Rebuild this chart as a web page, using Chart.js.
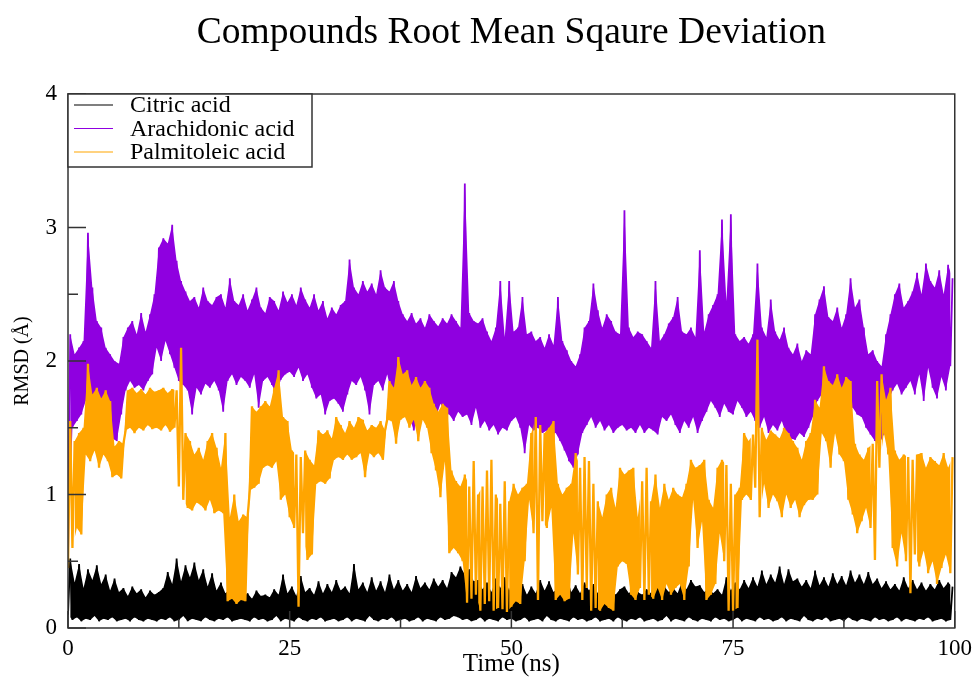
<!DOCTYPE html>
<html><head><meta charset="utf-8">
<script src="https://cdn.jsdelivr.net/npm/chart.js@4/dist/chart.umd.min.js"></script>
<style>html,body{margin:0;padding:0;background:#fff;}</style>
</head><body>
<canvas id="c" width="979" height="680"></canvas>
<script>
const chartTitle = 'Compounds Root Mean Sqaure Deviation';
const seriesNames = ['Citric acid', 'Arachidonic acid', 'Palmitoleic acid'];
const seriesColors = ['#000000', '#8f00e0', '#ffa500'];
const xTicks = [0, 25, 50, 75, 100];
const yTicks = [0, 1, 2, 3, 4];
const sampleStep = 0.5; // ns between samples

// Citric acid: low / high envelope every 0.5 ns
const citricLo = [
0.10,0.06,0.08,0.05,0.07,0.06,0.09,0.05,0.07,0.06,0.08,0.05,0.06,0.07,0.05,0.08,0.06,0.05,0.07,0.06,
0.05,0.07,0.06,0.08,0.05,0.06,0.09,0.05,0.07,0.06,0.05,0.08,0.06,0.05,0.07,0.06,0.08,0.05,0.06,0.07,
0.06,0.05,0.08,0.06,0.07,0.05,0.06,0.09,0.05,0.07,0.06,0.05,0.08,0.06,0.05,0.07,0.06,0.08,0.05,0.06,
0.07,0.05,0.06,0.08,0.05,0.07,0.06,0.05,0.09,0.06,0.05,0.07,0.06,0.08,0.05,0.06,0.07,0.05,0.06,0.08,
0.05,0.07,0.06,0.05,0.08,0.06,0.07,0.09,0.08,0.06,0.07,0.05,0.06,0.08,0.05,0.07,0.06,0.05,0.08,0.06,
0.07,0.05,0.06,0.08,0.05,0.06,0.07,0.05,0.09,0.06,0.05,0.07,0.06,0.05,0.08,0.06,0.07,0.05,0.06,0.08,
0.05,0.06,0.07,0.05,0.08,0.06,0.05,0.07,0.06,0.08,0.05,0.06,0.07,0.05,0.06,0.09,0.05,0.07,0.06,0.05,
0.08,0.06,0.05,0.07,0.06,0.05,0.08,0.06,0.07,0.05,0.06,0.08,0.05,0.07,0.06,0.05,0.08,0.06,0.07,0.05,
0.06,0.08,0.05,0.07,0.06,0.05,0.09,0.06,0.05,0.07,0.06,0.08,0.05,0.06,0.07,0.05,0.08,0.06,0.05,0.07,
0.06,0.05,0.08,0.06,0.07,0.05,0.06,0.08,0.05,0.07,0.06,0.05,0.07,0.06,0.08,0.05,0.06,0.07,0.05,0.06];
const citricHi = [
0.52,0.34,0.48,0.30,0.44,0.36,0.47,0.33,0.40,0.28,0.37,0.27,0.30,0.24,0.31,0.26,0.29,0.23,0.28,0.25,
0.27,0.30,0.42,0.33,0.52,0.35,0.47,0.38,0.49,0.36,0.44,0.31,0.41,0.28,0.34,0.26,0.29,0.24,0.27,0.23,
0.26,0.22,0.28,0.24,0.25,0.23,0.29,0.25,0.40,0.26,0.31,0.24,0.39,0.27,0.30,0.25,0.35,0.26,0.33,0.27,
0.36,0.28,0.31,0.26,0.48,0.29,0.34,0.27,0.38,0.28,0.35,0.27,0.40,0.29,0.36,0.28,0.33,0.27,0.39,0.30,
0.34,0.29,0.37,0.31,0.36,0.30,0.42,0.38,0.46,0.40,0.44,0.35,0.36,0.29,0.34,0.27,0.37,0.30,0.38,0.28,
0.40,0.27,0.33,0.25,0.31,0.26,0.36,0.28,0.35,0.27,0.30,0.25,0.40,0.27,0.32,0.26,0.34,0.28,0.33,0.26,
0.28,0.24,0.30,0.25,0.29,0.31,0.26,0.30,0.27,0.25,0.29,0.26,0.41,0.28,0.31,0.27,0.30,0.26,0.35,0.29,
0.36,0.31,0.32,0.27,0.30,0.26,0.29,0.25,0.38,0.28,0.34,0.29,0.36,0.30,0.38,0.31,0.43,0.33,0.40,0.34,
0.46,0.33,0.44,0.35,0.37,0.31,0.36,0.30,0.43,0.32,0.38,0.31,0.41,0.33,0.39,0.32,0.43,0.34,0.40,0.33,
0.42,0.33,0.37,0.30,0.35,0.29,0.33,0.28,0.38,0.30,0.36,0.29,0.34,0.28,0.33,0.29,0.36,0.30,0.34,0.31];

// Arachidonic acid
const arachLo = [
0.50,1.50,1.55,1.60,1.70,1.65,1.60,1.55,1.50,1.45, 1.42,1.40,1.60,1.78,1.85,1.80,1.82,1.78,1.85,1.90,
2.10,2.00,2.15,2.05,1.95,1.85,1.82,1.78,1.60,1.80, 1.75,1.83,1.80,1.85,1.78,1.62,1.85,1.90,1.82,1.88,
1.85,1.80,1.90,1.65,1.85,1.88,1.82,1.75,1.86,1.90, 1.92,1.88,1.95,1.85,1.90,1.80,1.72,1.75,1.60,1.70,
1.72,1.68,1.62,1.75,1.85,1.82,1.88,1.78,1.60,1.82, 1.85,1.78,1.90,1.75,1.68,1.62,1.65,1.58,1.48,1.60,
1.62,1.55,1.65,1.58,1.68,1.62,1.60,1.55,1.62,1.58, 1.60,1.52,1.65,1.50,1.55,1.48,1.52,1.45,1.50,1.48,
1.55,1.58,1.50,1.31,1.52,1.48,1.50,1.46,1.48,1.45, 1.46,1.40,1.33,1.25,1.20,1.30,1.46,1.52,1.58,1.50,
1.55,1.48,1.52,1.46,1.50,1.52,1.48,1.50,1.46,1.52, 1.46,1.50,1.48,1.45,1.58,1.55,1.60,1.52,1.46,1.55,
1.50,1.58,1.46,1.55,1.62,1.70,1.65,1.58,1.68,1.62, 1.60,1.70,1.65,1.58,1.62,1.55,1.50,1.58,1.46,1.52,
1.48,1.55,1.45,1.42,1.41,1.46,1.43,1.50,1.58,1.70, 1.75,1.83,1.78,1.72,1.80,1.75,1.70,1.65,1.60,1.58,
1.50,1.45,1.40,1.38,1.45,1.70,1.78,1.83,1.75,1.80, 1.85,1.75,1.90,1.70,1.95,1.80,1.72,1.88,1.78,1.96];
const arachHi = [
2.20,2.05,2.10,2.15,2.96,2.55,2.30,2.25,2.10,2.05, 2.00,1.98,2.18,2.25,2.30,2.20,2.36,2.22,2.35,2.50,
2.85,2.92,2.88,3.02,2.75,2.60,2.52,2.45,2.48,2.40, 2.55,2.45,2.42,2.48,2.50,2.40,2.62,2.45,2.42,2.50,
2.38,2.46,2.55,2.40,2.36,2.48,2.45,2.38,2.52,2.44, 2.50,2.42,2.55,2.46,2.40,2.50,2.38,2.45,2.32,2.40,
2.35,2.42,2.45,2.76,2.55,2.50,2.60,2.52,2.58,2.50, 2.68,2.55,2.52,2.60,2.45,2.35,2.30,2.36,2.28,2.32,
2.25,2.35,2.30,2.26,2.32,2.28,2.35,2.30,2.25,3.33, 2.36,2.30,2.28,2.32,2.22,2.15,2.25,2.60,2.18,2.60,
2.22,2.25,2.48,2.20,2.22,2.15,2.18,2.10,2.20,2.12, 2.48,2.15,2.08,2.00,1.96,2.05,2.25,2.30,2.58,2.38,
2.25,2.35,2.30,2.22,2.20,3.13,2.25,2.18,2.22,2.20, 2.15,2.10,2.60,2.15,2.20,2.28,2.33,2.48,2.22,2.20,
2.25,2.18,2.83,2.22,2.35,2.42,2.50,3.06,2.45,3.10, 2.20,2.15,2.18,2.13,2.20,2.73,2.25,2.18,2.46,2.22,
2.16,2.25,2.10,2.05,2.13,2.00,2.08,2.05,2.35,2.46, 2.56,2.33,2.30,2.40,2.25,2.35,2.62,2.40,2.46,2.25,
2.05,2.08,2.00,1.96,2.20,2.35,2.50,2.58,2.40,2.45, 2.52,2.66,2.50,2.73,2.60,2.55,2.68,2.50,2.72,2.62];

// Palmitoleic acid
const palmLo = [
0.45,0.60,0.75,0.70,1.30,1.25,1.33,1.20,1.30,1.25, 1.13,1.15,1.12,1.48,1.50,1.46,1.50,1.48,1.52,1.49,
1.50,1.48,1.52,1.47,1.50,1.06,0.96,0.90,0.88,0.94, 0.92,0.88,0.96,0.86,0.88,0.86,0.20,0.22,0.18,0.21,
0.20,1.03,1.05,1.08,1.20,1.22,1.20,1.25,0.96,1.00, 0.83,0.75,0.16,0.71,0.51,0.55,1.08,1.10,1.08,1.12,
1.26,1.28,1.26,1.30,1.26,1.28,1.31,1.13,1.31,1.28, 1.31,1.26,1.56,1.55,1.38,1.56,1.58,1.50,1.56,1.40,
1.56,1.50,1.31,1.18,0.98,1.25,0.56,0.60,0.56,0.50, 0.19,0.22,0.25,0.13,0.18,0.20,0.13,0.15,0.14,0.12,
0.16,0.20,0.18,0.50,0.96,0.71,0.21,0.80,0.75,0.90, 0.21,0.25,0.20,0.22,0.71,0.40,0.21,0.30,0.13,0.15,
0.13,0.18,0.15,0.13,0.46,0.50,0.48,0.25,0.21,0.30, 0.21,0.25,0.22,0.30,0.21,0.33,0.25,0.30,0.33,0.21,
0.46,0.96,0.60,0.80,0.21,0.25,0.33,0.71,0.50,0.13, 0.13,0.15,0.96,1.00,0.96,1.05,0.83,1.08,0.90,1.00,
0.95,0.83,1.00,0.90,0.96,0.83,0.92,0.96,0.96,1.00, 1.46,1.40,1.20,1.46,1.30,1.25,0.96,0.85,0.71,0.80,
0.90,0.75,0.51,1.20,1.46,1.30,0.60,0.46,0.71,0.50, 0.26,0.55,0.46,0.58,0.41,0.50,0.33,0.45,0.55,0.41];
const palmHi = [
1.55,1.40,1.46,1.50,1.98,1.75,1.80,1.72,1.78,1.70, 1.36,1.40,1.38,1.78,1.80,1.76,1.79,1.75,1.80,1.77,
1.78,1.80,1.76,1.79,1.78,2.10,1.46,1.40,1.30,1.35, 1.26,1.40,1.46,1.35,1.20,1.46,0.83,1.00,0.80,0.85,
0.83,1.66,1.62,1.66,1.70,1.66,1.80,1.93,1.58,1.55, 1.33,1.30,1.28,1.33,1.26,1.22,1.48,1.45,1.48,1.42,
1.58,1.52,1.46,1.55,1.50,1.58,1.56,1.48,1.52,1.50, 1.55,1.48,1.85,1.80,2.03,1.90,1.93,1.82,1.88,1.80,
1.85,1.80,1.68,1.62,1.68,1.65,1.18,1.10,1.06,1.15, 1.06,1.25,1.00,1.06,1.18,1.26,1.00,0.93,1.10,0.95,
1.08,1.00,1.05,1.08,1.46,1.58,1.52,1.46,1.50,1.55, 1.08,1.00,1.05,1.08,1.31,1.20,1.28,1.25,1.08,0.95,
0.83,1.00,1.05,0.90,1.20,1.15,1.18,1.20,0.83,1.10, 1.20,0.95,1.15,0.90,1.08,0.96,1.05,1.00,0.98,1.08,
1.26,1.20,1.22,1.26,0.96,0.90,1.20,1.26,1.22,1.08, 1.00,1.05,1.46,1.40,1.45,2.16,1.50,1.41,1.48,1.45,
1.42,1.50,1.46,1.40,1.35,1.26,1.40,1.46,1.71,1.65, 1.96,1.85,1.82,1.90,1.80,1.88,1.85,1.38,1.30,1.26,
1.35,1.38,1.85,1.90,1.71,1.80,1.33,1.26,1.30,1.28, 1.26,1.30,1.31,1.20,1.28,1.25,1.22,1.31,1.20,1.28];

// style: bands wider than this are drawn as open noise rather than a solid core
const solidMaxSpread = [9, 9, 0.95];
const noiseLineWidth = [1.8, 1.8, 2.3];

function zigzag(lo, hi) {
  const pts = [];
  for (let i = 0; i < lo.length; i++) {
    pts.push({x: i * sampleStep, y: lo[i]});
    pts.push({x: i * sampleStep + sampleStep / 2, y: hi[i]});
  }
  return pts;
}
function envelope(lo, hi, useHi, maxSpread) {
  return lo.map((v, i) => {
    const ok = hi[i] - v <= maxSpread;
    return {x: i * sampleStep + (useHi ? sampleStep / 2 : 0), y: ok ? (useHi ? hi[i] : v) : null};
  });
}

const SERIF = "'Liberation Serif', 'Times New Roman', serif";

const framePlugin = {
  id: 'frameAndLegend',
  afterDatasetsDraw(chart) {
    const {ctx, chartArea: a, scales: {x, y}} = chart;
    ctx.save();
    ctx.strokeStyle = '#333';
    ctx.lineWidth = 1.5;
    ctx.strokeRect(a.left, a.top, a.right - a.left, a.bottom - a.top);
    ctx.beginPath();
    const xMinor = [];
    for (let i = 0; i < xTicks.length - 1; i++) xMinor.push((xTicks[i] + xTicks[i + 1]) / 2);
    const yMinor = [];
    for (let i = 0; i < yTicks.length - 1; i++) yMinor.push((yTicks[i] + yTicks[i + 1]) / 2);
    xTicks.forEach(v => { const p = x.getPixelForValue(v); ctx.moveTo(p, a.bottom); ctx.lineTo(p, a.bottom - 17); });
    xMinor.forEach(v => { const p = x.getPixelForValue(v); ctx.moveTo(p, a.bottom); ctx.lineTo(p, a.bottom - 9); });
    yTicks.forEach(v => { const p = y.getPixelForValue(v); ctx.moveTo(a.left, p); ctx.lineTo(a.left + 18, p); });
    yMinor.forEach(v => { const p = y.getPixelForValue(v); ctx.moveTo(a.left, p); ctx.lineTo(a.left + 10, p); });
    ctx.stroke();

    // legend box
    const bx = a.left, by = a.top, bw = 244, bh = 73;
    ctx.fillStyle = '#fff';
    ctx.fillRect(bx, by, bw, bh);
    ctx.strokeRect(bx, by, bw, bh);
    ctx.font = "24px " + SERIF;
    ctx.textBaseline = 'middle';
    seriesNames.forEach((name, i) => {
      const yy = by + 11 + i * 23.5;
      ctx.strokeStyle = seriesColors[i];
      ctx.lineWidth = 1.2;
      ctx.beginPath(); ctx.moveTo(bx + 6, yy); ctx.lineTo(bx + 45, yy); ctx.stroke();
      ctx.fillStyle = '#000';
      ctx.fillText(name, bx + 62, yy + 1);
    });
    ctx.restore();
  }
};

const series = [
  {lo: citricLo, hi: citricHi},
  {lo: arachLo, hi: arachHi},
  {lo: palmLo, hi: palmHi}
];
const orders = [2, 1, 0];
const datasets = [];
series.forEach((s, k) => {
  const loIndex = datasets.length;
  datasets.push({label: seriesNames[k] + ' low', data: envelope(s.lo, s.hi, false, solidMaxSpread[k]), borderWidth: 0, borderColor: 'rgba(0,0,0,0)', fill: false, order: orders[k]});
  datasets.push({label: seriesNames[k] + ' high', data: envelope(s.lo, s.hi, true, solidMaxSpread[k]), borderWidth: 0, borderColor: 'rgba(0,0,0,0)', backgroundColor: seriesColors[k], fill: {target: loIndex}, order: orders[k]});
  datasets.push({label: seriesNames[k], data: zigzag(s.lo, s.hi), borderColor: seriesColors[k], borderWidth: noiseLineWidth[k], fill: false, order: orders[k]});
});

new Chart(document.getElementById('c'), {
  type: 'line',
  data: {datasets},
  options: {
    responsive: false,
    devicePixelRatio: 1,
    animation: false,
    datasets: {line: {borderJoinStyle: 'bevel', pointRadius: 0, tension: 0, spanGaps: false}},
    layout: {padding: {left: 0, right: 21, top: 0, bottom: 0}},
    plugins: {
      legend: {display: false},
      tooltip: {enabled: false},
      filler: {propagate: false},
      title: {
        display: true, text: chartTitle, color: '#000', fullSize: false,
        font: {family: SERIF, size: 37.5, weight: 'normal', lineHeight: 1.2},
        padding: {top: 11, bottom: 38}
      }
    },
    scales: {
      x: {
        type: 'linear', min: 0, max: 100,
        afterBuildTicks: s => { s.ticks = xTicks.map(v => ({value: v})); },
        afterFit: s => { s.height = 52; },
        grid: {display: false, drawTicks: false},
        border: {display: false},
        ticks: {color: '#000', padding: 7, maxRotation: 0, font: {family: SERIF, size: 23}},
        title: {display: true, text: 'Time (ns)', color: '#000', font: {family: SERIF, size: 25}, padding: {top: 0, bottom: 1}}
      },
      y: {
        type: 'linear', min: 0, max: 4,
        afterBuildTicks: s => { s.ticks = yTicks.map(v => ({value: v})); },
        afterFit: s => { s.width = 68; },
        grid: {display: false, drawTicks: false},
        border: {display: false},
        ticks: {color: '#000', padding: 11, font: {family: SERIF, size: 23}},
        title: {display: true, text: 'RMSD (Å)', color: '#000', font: {family: SERIF, size: 20}, padding: {top: 11, bottom: 0}}
      }
    }
  },
  plugins: [framePlugin]
});
</script>
</body></html>
